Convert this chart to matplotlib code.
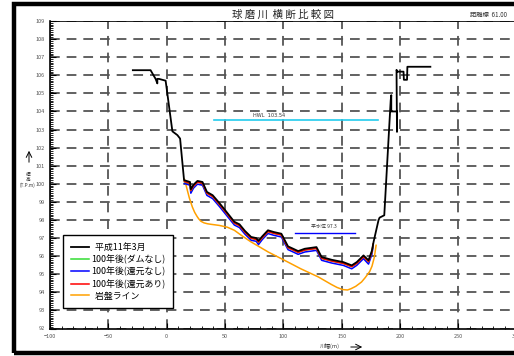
import matplotlib.pyplot as plt
import matplotlib.patches as patches
from matplotlib.ticker import MultipleLocator

plt.rcParams['font.family'] = ['Noto Sans CJK JP', 'DejaVu Sans']
plt.rcParams['lines.scale_dashes'] = False

# 平成11年3月 (現況断面)
x_now = [-29, -13.8, -9.5, -8, -8, -6.6, -0.9, 4.9, 9.2, 11.5, 14.9, 20, 20.7, 23, 26.4, 30.7,
         34.5, 39.4, 45, 50, 58, 62.4, 67, 72.4, 76.7, 78.7, 82, 86.8, 92, 98.3, 104, 108.4,
         112.7, 118.4, 128.4, 132.8, 141.4, 151.4, 158.6, 162.9, 168.7, 173, 175.9, 177.3,
         181.6, 182.5, 186.5, 192.0, 192.5, 192.5, 197.4, 197.4, 197.0, 197.6, 203.0, 203.3,
         206.0, 206.3, 226.0]
y_now = [106.28, 106.28, 105.8, 105.55, 105.8, 105.8, 105.7, 102.9, 102.69, 102.5, 100.2, 100.1,
         99.7, 99.95, 100.16, 100.1, 99.55, 99.37, 98.95, 98.55, 97.9, 97.76, 97.4, 97.06, 97.0,
         96.85, 97.1, 97.43, 97.33, 97.24, 96.54, 96.41, 96.28, 96.41, 96.5, 95.95, 95.8, 95.67,
         95.49, 95.67, 96.04, 95.77, 96.3, 96.78, 98.0, 98.13, 98.26, 104.6, 104.9, 104.0, 104.0,
         102.87, 106.3, 106.2, 106.2, 105.75, 105.75, 106.47, 106.47]

# 100年後 (河床部)
x_bed = [15.2, 20, 20.7, 23, 26.4, 30.7, 34.5, 39.4, 45, 50, 58, 62.4, 67, 72.4, 76.7, 78.7, 82,
         86.8, 92, 98.3, 104, 108.4, 112.7, 118.4, 128.4, 132.8, 141.4, 151.4, 158.6, 162.9,
         168.7, 173, 175.9, 177.0]
y_nodam = [100.12, 100.03, 99.62, 99.88, 100.09, 100.03, 99.48, 99.30, 98.88, 98.48, 97.83,
           97.69, 97.33, 96.99, 96.93, 96.77, 97.03, 97.36, 97.26, 97.17, 96.47, 96.34, 96.21,
           96.34, 96.43, 95.88, 95.73, 95.60, 95.42, 95.60, 95.97, 95.70, 96.23, 96.65]
y_norest = [100.02, 99.92, 99.48, 99.76, 99.98, 99.92, 99.36, 99.18, 98.76, 98.36, 97.72, 97.58,
            97.22, 96.88, 96.82, 96.64, 96.92, 97.25, 97.15, 97.06, 96.36, 96.23, 96.10, 96.23,
            96.32, 95.77, 95.62, 95.49, 95.30, 95.49, 95.86, 95.56, 96.10, 96.55]
y_rest = [100.13, 100.03, 99.63, 99.88, 100.09, 100.03, 99.48, 99.30, 98.88, 98.48, 97.83,
          97.69, 97.33, 96.99, 96.93, 96.78, 97.03, 97.36, 97.26, 97.17, 96.47, 96.34, 96.21,
          96.34, 96.43, 95.88, 95.73, 95.60, 95.42, 95.60, 95.97, 95.70, 96.23, 96.68]

# 岩盤ライン
x_rock = [15.2, 16.5, 17.8, 19.5, 22, 24, 26, 27.5, 29.3, 32, 35, 38, 45, 52, 58, 64, 72, 87,
          101, 115, 130, 141, 146, 151, 155, 158, 162, 167, 170, 174, 176, 178, 179.5]
y_rock = [100.25, 99.95, 99.62, 99.2, 98.72, 98.42, 98.2, 98.06, 97.93, 97.84, 97.79, 97.76,
          97.7, 97.6, 97.43, 97.15, 96.8, 96.23, 95.77, 95.3, 94.85, 94.44, 94.27, 94.15,
          94.13, 94.2, 94.33, 94.57, 94.8, 95.15, 95.45, 95.95, 96.6]

hwl_x = [40.5, 181]
hwl = 103.54
low_x = [110, 161]
low_wl = 97.3

fig = plt.figure(figsize=(5.14, 3.56), dpi=100)
ax = fig.add_axes([50 / 514, 1 - 328.5 / 356, 466.7 / 514, 307.5 / 356])

ax.set_xlim(-100, 300)
ax.set_ylim(92, 109)
ax.xaxis.set_major_locator(MultipleLocator(50))
ax.xaxis.set_minor_locator(MultipleLocator(10))
ax.yaxis.set_major_locator(MultipleLocator(1))
ax.yaxis.set_minor_locator(MultipleLocator(0.1))
ax.tick_params(which='both', direction='in', labelsize=4, labelcolor='#555555',
               top=False, right=False, pad=3.6)
ax.tick_params(which='major', length=4, width=0.8)
ax.tick_params(which='minor', length=2, width=0.6)
for s in ['top', 'right']:
    ax.spines[s].set_visible(False)
ax.spines['left'].set_linewidth(1.2)
ax.spines['bottom'].set_linewidth(1.2)
ax.axhline(109, color='black', lw=1.2)

ax.grid(True, which='major', color='#555555', linewidth=1.3, linestyle=(0, (7, 5)))
ax.set_axisbelow(True)

ax.plot(x_rock, y_rock, color='#ffa000', lw=1.1, label='  岩盤ライン', zorder=3)
ax.plot(x_bed, y_norest, color='#0000ff', lw=1.1, label='100年後(還元なし)', zorder=4)
ax.plot(x_bed, y_nodam, color='#33dd33', lw=1.1, label='100年後(ダムなし)', zorder=4)
ax.plot(x_bed, y_rest, color='#ff0000', lw=1.1, label='100年後(還元あり)', zorder=5)
ax.plot(x_now, y_now, color='black', lw=1.3, label='  平成11年3月', zorder=6)

ax.plot(hwl_x, [hwl, hwl], color='#22ccee', lw=1.2, zorder=3)
ax.text(88, 103.8, 'HWL  103.54', fontsize=3.6, color='#333333', ha='center', va='center',
        family='DejaVu Sans')
ax.plot(low_x, [low_wl, low_wl], color='#0000ff', lw=1.0, zorder=3)
ax.text(135, 97.65, '平水位 97.3', fontsize=3.6, color='#333333', ha='center', va='center')

h, l = ax.get_legend_handles_labels()
order = [4, 2, 1, 3, 0]
leg = ax.legend([h[i] for i in order], [l[i] for i in order], loc='lower left',
                bbox_to_anchor=(9 / 466.7, 16 / 307.5), fontsize=6.4, frameon=True,
                fancybox=False, edgecolor='black', framealpha=1, handlelength=2.0,
                labelspacing=0.3, borderpad=0.85, handletextpad=0.3)
leg.get_frame().set_linewidth(1.0)
leg.set_zorder(10)

fig.text(283 / 514, 1 - 15 / 356, '球 磨 川  横 断 比 較 図', fontsize=7.5, ha='center',
         va='center', color='#222222')
fig.text(470 / 514, 1 - 15 / 356, '距離標  61.00', fontsize=4.5, ha='left', va='center',
         color='#333333')
fig.text(330 / 514, 1 - 346 / 356, '川幅(m)', fontsize=4, ha='center', va='center',
         color='#333333')
ax.annotate('', xy=(365 / 514, 1 - 347 / 356), xytext=(348 / 514, 1 - 347 / 356),
            xycoords='figure fraction', textcoords='figure fraction', annotation_clip=False,
            arrowprops=dict(arrowstyle='->', lw=0.7, color='black'))
ax.annotate('', xy=(29 / 514, 1 - 148 / 356), xytext=(29 / 514, 1 - 165 / 356),
            xycoords='figure fraction', textcoords='figure fraction', annotation_clip=False,
            arrowprops=dict(arrowstyle='->', lw=0.7, color='black'))
fig.text(28 / 514, 1 - 180 / 356, '標\n高\n(T.P.m)', fontsize=3.4, ha='center', va='center',
         color='#333333', linespacing=1.1)

fig.patches.append(patches.Rectangle((14 / 514, 1 - 353 / 356), 530 / 514, 349 / 356,
                                     transform=fig.transFigure, fill=False,
                                     edgecolor='black', linewidth=3.2))

fig.savefig('out.png', dpi=100)
